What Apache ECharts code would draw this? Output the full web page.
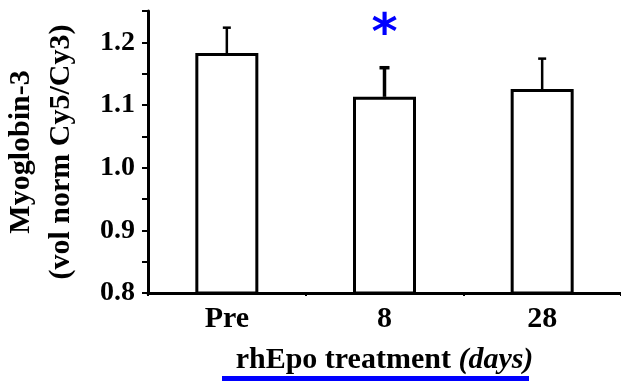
<!DOCTYPE html>
<html>
<head>
<meta charset="utf-8">
<script src="https://cdn.jsdelivr.net/npm/echarts@6/dist/echarts.min.js"></script>
<style>
html,body{margin:0;padding:0;background:#fff;}
#c{width:621px;height:381px;}
</style>
</head>
<body>
<div id="c"></div>
<script>
// ---- data ----
var categories = ['Pre', '8', '28'];
var meanValues = [1.183, 1.113, 1.1255];
var upperValues = [1.2234, 1.1595, 1.174];
var significant = [false, true, false];
var sigMarkValue = 1.21;
var yMin = 0.8, yMax = 1.25, yTickStep = 0.05;

var FONT = '"Liberation Serif", "Times New Roman", serif';
var chart = echarts.init(document.getElementById('c'), null, {renderer: 'canvas'});

var sigData = categories.map(function (c, i) { return significant[i] ? [i, sigMarkValue] : null; }).filter(Boolean);
var errData = categories.map(function (c, i) { return [i, meanValues[i], upperValues[i]]; });

var option = {
  animation: false,
  backgroundColor: '#fff',
  grid: {left: 148, right: 0, top: 11, bottom: 88, containLabel: false, outerBoundsMode: 'none'},
  xAxis: {
    type: 'category',
    data: categories,
    boundaryGap: true,
    axisLine: {lineStyle: {color: '#000', width: 3}},
    axisTick: {show: true, length: 3, lineStyle: {color: '#000', width: 2}},
    axisLabel: {color: '#000', fontFamily: FONT, fontWeight: 'bold', fontSize: 30, margin: 11},
    name: '{a|rhEpo treatment }{b|(days)}',
    nameLocation: 'middle',
    nameGap: 52,
    nameTextStyle: {
      rich: {
        a: {fontFamily: FONT, fontWeight: 'bold', fontSize: 30, color: '#000'},
        b: {fontFamily: FONT, fontWeight: 'bold', fontStyle: 'italic', fontSize: 30, color: '#000'}
      }
    },
    splitLine: {show: false}
  },
  yAxis: {
    type: 'value',
    min: yMin, max: yMax, interval: yTickStep,
    axisLine: {show: true, lineStyle: {color: '#000', width: 3}},
    axisTick: {show: true, inside: false, length: 6, lineStyle: {color: '#000', width: 2}},
    axisLabel: {
      color: '#000', fontFamily: FONT, fontWeight: 'bold', fontSize: 28, margin: 13,
      formatter: function (v) {
        var k = Math.round(v * 100);
        return (k % 10 === 0) ? (k / 100).toFixed(1) : '';
      }
    },
    splitLine: {show: false},
    name: 'Myoglobin-3\n(vol norm Cy5/Cy3)',
    nameLocation: 'middle',
    nameGap: 67,
    nameRotate: 90,
    nameTextStyle: {fontFamily: FONT, fontWeight: 'bold', fontSize: 30, color: '#000', lineHeight: 40}
  },
  series: [
    {
      type: 'bar',
      data: meanValues,
      barWidth: 63,
      itemStyle: {color: '#fff', borderColor: '#000', borderWidth: 3},
      z: 2
    },
    {
      type: 'custom',
      data: errData,
      z: 3,
      renderItem: function (params, api) {
        var i = api.value(0);
        var base = api.coord([i, api.value(1)]);
        var top = api.coord([i, api.value(2)]);
        var w = significant[i] ? 3.5 : 2.5;
        var capHalf = significant[i] ? 5 : 4;
        return {
          type: 'group',
          children: [
            {type: 'line', shape: {x1: base[0], y1: base[1], x2: top[0], y2: top[1]}, style: {stroke: '#000', lineWidth: w}},
            {type: 'line', shape: {x1: top[0] - capHalf, y1: top[1], x2: top[0] + capHalf, y2: top[1]}, style: {stroke: '#000', lineWidth: w}}
          ]
        };
      }
    },
    {
      type: 'custom',
      data: sigData,
      z: 4,
      renderItem: function (params, api) {
        var p = api.coord([api.value(0), api.value(1)]);
        return {
          type: 'text',
          x: p[0], y: p[1],
          style: {
            text: '*', fill: '#0000ff', align: 'center', verticalAlign: 'middle',
            font: 'bold 50px "DejaVu Sans", sans-serif'
          }
        };
      }
    }
  ],
  graphic: [
    {type: 'rect', left: 222, top: 376, shape: {width: 307, height: 5}, style: {fill: '#0000ff'}}
  ]
};
chart.setOption(option);
</script>
</body>
</html>
